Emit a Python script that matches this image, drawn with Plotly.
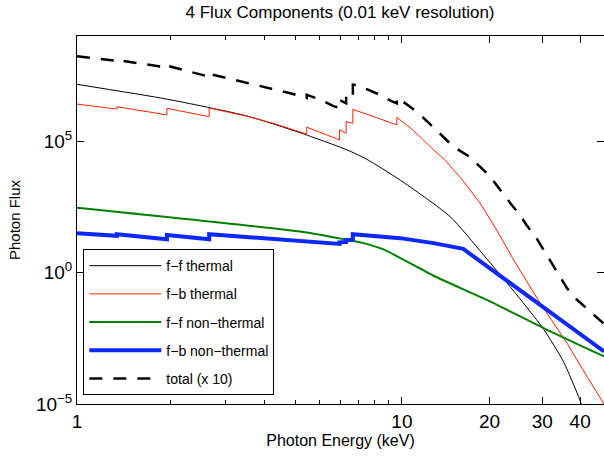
import plotly.graph_objects as go

# ---------------- data (energies in axis units, flux as log10 values) ----------------
ff_thermal_E = [1.00, 1.94, 3.50, 5.19, 7.33, 8.49, 10.86, 15.7, 20.0, 25.7, 31.3, 36.3, 40.5, 41.5]
ff_thermal_log = [7.16, 6.60, 5.96, 5.32, 4.67, 4.31, 3.52, 2.13, 0.70, -0.85, -2.15, -3.40, -4.71, -5.05]

fb_thermal_E = [1.00, 1.342, 1.342, 1.942, 1.942, 2.653, 2.653, 3.505, 4.30, 5.19, 5.45, 5.45,
                6.94, 6.94, 7.29, 7.29, 7.66, 7.66, 9.0, 10.6, 10.6, 12.0, 13.9, 15.1, 17.2,
                19.6, 22.2, 25.1, 30.5, 37.2, 43.1, 48.9]
fb_thermal_log = [6.41, 6.22, 6.31, 6.00, 6.25, 5.93, 6.26, 5.95, 5.66, 5.34, 5.27, 5.53,
                  5.05, 5.43, 5.30, 5.74, 5.68, 6.21, 5.93, 5.62, 5.91, 5.40, 4.67, 4.29, 3.52,
                  2.64, 1.60, 0.48, -1.16, -2.68, -3.95, -5.00]

ff_nonthermal_E = [1.00, 5.19, 7.15, 8.28, 9.6, 13.9, 20.6, 31.3, 48.9]
ff_nonthermal_log = [2.47, 1.56, 1.27, 1.12, 0.88, -0.12, -1.04, -2.11, -3.19]

fb_nonthermal_E = [1.00, 1.342, 1.342, 1.942, 1.942, 2.653, 2.653, 5.19, 6.94, 6.94, 7.29, 7.29,
                   7.66, 7.66, 10.86, 13.9, 17.3, 29.1, 48.9]
fb_nonthermal_log = [1.50, 1.40, 1.46, 1.27, 1.43, 1.27, 1.46, 1.22, 1.09, 1.15, 1.16, 1.24,
                     1.25, 1.46, 1.31, 1.12, 0.90, -1.05, -3.00]

total_E = [1.00, 1.342, 1.342, 1.942, 1.942, 2.653, 2.653, 3.50, 4.83, 5.19, 5.45, 5.45, 6.02,
           6.64, 6.94, 6.94, 7.29, 7.29, 7.66, 7.66, 7.98, 8.6, 9.36, 10.2, 10.6, 10.6, 11.69,
           12.6, 13.6, 14.96, 16.1, 18.1, 19.3, 20.6, 21.7, 22.9, 24.5, 26.3, 27.6, 29.7, 31.3,
           37.2, 39.5, 42.3, 45.3, 48.9]
total_log = [8.23, 8.05, 8.09, 7.80, 7.87, 7.45, 7.56, 7.23, 6.82, 6.72, 6.64, 6.76, 6.58,
             6.33, 6.27, 6.57, 6.44, 6.69, 6.62, 7.15, 7.12, 6.95, 6.76, 6.52, 6.44, 6.66, 6.31,
             6.00, 5.62, 5.17, 4.79, 4.41, 4.10, 3.78, 3.46, 3.08, 2.64, 2.19, 1.81, 1.31, 0.86,
             -0.59, -0.97, -1.29, -1.61, -1.95]

series_names = ["f\u2212f thermal", "f\u2212b thermal", "f\u2212f non\u2212thermal",
                "f\u2212b non\u2212thermal", "total (x 10)"]

x_tick_vals = [1, 11, 21, 31, 41]
x_tick_text = ["1", "10", "20", "30", "40"]
x_minor_vals = [2, 3, 4, 5, 6, 7, 8, 9, 10]
y_tick_vals = [1e-5, 1, 1e5]
y_tick_text = ["10<sup>\u22125</sup>", "10<sup>0</sup>", "10<sup>5</sup>"]

FONT = "Liberation Sans, Arial, Helvetica, sans-serif"
X_RANGE = [0, 1.6893]


def pw(vals):
    return [10 ** v for v in vals]


fig = go.Figure()
fig.add_trace(go.Scatter(x=ff_thermal_E, y=pw(ff_thermal_log), mode="lines", name=series_names[0],
                         legendgroup="a", line=dict(color="black", width=1, shape="spline", smoothing=0.6)))
fig.add_trace(go.Scatter(x=fb_thermal_E, y=pw(fb_thermal_log), mode="lines", name=series_names[1],
                         legendgroup="b", line=dict(color="#ff2000", width=1)))
fig.add_trace(go.Scatter(x=ff_nonthermal_E, y=pw(ff_nonthermal_log), mode="lines", name=series_names[2],
                         legendgroup="c", line=dict(color="#008000", width=2, shape="spline", smoothing=0.6)))
fig.add_trace(go.Scatter(x=fb_nonthermal_E, y=pw(fb_nonthermal_log), mode="lines", name=series_names[3],
                         legendgroup="d", line=dict(color="#0a28ff", width=4)))
fig.add_trace(go.Scatter(x=total_E, y=pw(total_log), mode="lines", name=series_names[4],
                         legendgroup="e", line=dict(color="black", width=2.5, dash="13px,11px")))
# empty helper trace so the mirrored top axis (with minor ticks) is drawn
fig.add_trace(go.Scatter(x=[None], y=[None], xaxis="x2", mode="lines", showlegend=False,
                         hoverinfo="skip"))

fig.update_layout(
    width=604, height=464,
    margin=dict(l=77, r=0, t=36, b=60),
    paper_bgcolor="white", plot_bgcolor="white",
    font=dict(family=FONT, color="black"),
    title=dict(text="4 Flux Components (0.01 keV resolution)", x=0.563, xanchor="center",
               y=1 - 12 / 464, yanchor="middle", xref="container", yref="container",
               font=dict(size=17, family=FONT, color="black")),
    showlegend=True,
    legend=dict(x=0.012, y=0.421, xanchor="left", yanchor="top", bgcolor="white",
                bordercolor="black", borderwidth=1, font=dict(size=14, family=FONT),
                tracegroupgap=7, itemwidth=72, traceorder="grouped"),
    annotations=[dict(text="Photon Flux", textangle=-90, xref="paper", yref="paper",
                      x=(14 - 77) / 527, y=0.5, xanchor="center", yanchor="middle",
                      showarrow=False, font=dict(size=15, family=FONT, color="black"))],
)

common_x = dict(
    type="log", range=X_RANGE, autorange=False,
    tickvals=x_tick_vals,
    ticks="inside", ticklen=7, tickwidth=1, tickcolor="black",
    minor=dict(tickvals=x_minor_vals, ticks="inside", ticklen=4, tickcolor="black"),
    showline=True, linecolor="black", linewidth=1,
    showgrid=False, zeroline=False,
)
fig.update_layout(
    xaxis=dict(**common_x, ticktext=x_tick_text, tickfont=dict(size=19, family=FONT),
               title=dict(text="Photon Energy (keV)", font=dict(size=16, family=FONT), standoff=0),
               automargin=False),
    xaxis2=dict(**common_x, overlaying="x", side="top", anchor="y", showticklabels=False,
                automargin=False),
)
fig.update_yaxes(
    type="log", range=[-5, 9], autorange=False,
    tickvals=y_tick_vals, ticktext=y_tick_text,
    ticks="inside", ticklen=7, tickwidth=1, tickcolor="black",
    showline=True, linecolor="black", linewidth=1, mirror="ticks",
    showgrid=False, zeroline=False,
    tickfont=dict(size=19, family=FONT),
    automargin=False,
)

fig.write_html("out.html")
